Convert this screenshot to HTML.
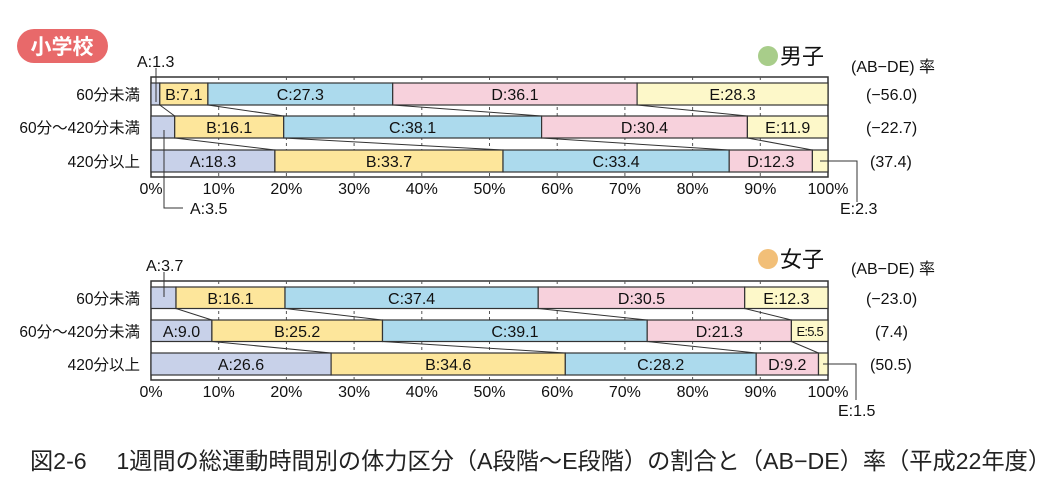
<!DOCTYPE html>
<html><head><meta charset="utf-8"><style>
body{margin:0;background:#fff;}
svg{display:block;font-family:"Liberation Sans","Noto Sans CJK JP",sans-serif;}
.t{font-size:16px;fill:#111;text-anchor:middle;}
.c{font-size:15.5px;fill:#111;text-anchor:end;}
.r{font-size:16px;fill:#111;}
.g{stroke:#555;stroke-width:1;stroke-dasharray:3,3;}
.s{stroke:#333;stroke-width:1.2;}
.l{stroke:#333;stroke-width:1;fill:none;}
.A{fill:#c8d1e9}.B{fill:#fde69b}.C{fill:#acdaed}.D{fill:#f7d1dc}.E{fill:#fdf8c9}
</style></head><body>
<svg width="1051" height="501" viewBox="0 0 1051 501">
<rect x="17" y="29" width="91" height="34" rx="17" fill="#e8696a"/>
<text x="62" y="54" font-size="21" font-weight="bold" fill="#fff" text-anchor="middle">小学校</text>

<g>
<rect x="151" y="77" width="677" height="100" fill="#fff" stroke="#333" stroke-width="1.5"/>
<line class="g" x1="218.7" y1="77" x2="218.7" y2="177"/><line class="g" x1="286.4" y1="77" x2="286.4" y2="177"/><line class="g" x1="354.1" y1="77" x2="354.1" y2="177"/><line class="g" x1="421.8" y1="77" x2="421.8" y2="177"/><line class="g" x1="489.5" y1="77" x2="489.5" y2="177"/><line class="g" x1="557.2" y1="77" x2="557.2" y2="177"/><line class="g" x1="624.9" y1="77" x2="624.9" y2="177"/><line class="g" x1="692.6" y1="77" x2="692.6" y2="177"/><line class="g" x1="760.3" y1="77" x2="760.3" y2="177"/>
<rect class="A s" x="151" y="83" width="8.8" height="22"/><rect class="B s" x="159.8" y="83" width="48.1" height="22"/><rect class="C s" x="207.9" y="83" width="184.8" height="22"/><rect class="D s" x="392.7" y="83" width="244.4" height="22"/><rect class="E s" x="637.1" y="83" width="190.9" height="22"/>
<rect class="A s" x="151" y="116" width="23.7" height="22"/><rect class="B s" x="174.7" y="116" width="109" height="22"/><rect class="C s" x="283.7" y="116" width="257.9" height="22"/><rect class="D s" x="541.6" y="116" width="205.8" height="22"/><rect class="E s" x="747.4" y="116" width="80.6" height="22"/>
<rect class="A s" x="151" y="150" width="123.9" height="22"/><rect class="B s" x="274.9" y="150" width="228.1" height="22"/><rect class="C s" x="503" y="150" width="226.2" height="22"/><rect class="D s" x="729.2" y="150" width="83.2" height="22"/><rect class="E s" x="812.4" y="150" width="15.6" height="22"/>
<path class="l" d="M159.8 105L174.7 116M207.9 105L283.7 116M392.7 105L541.6 116M637.1 105L747.4 116M174.7 138L274.9 150M283.7 138L503 150M541.6 138L729.2 150M747.4 138L812.4 150"/>
<text class="t" x="183.8" y="100">B:7.1</text><text class="t" x="300.3" y="100">C:27.3</text><text class="t" x="514.9" y="100">D:36.1</text><text class="t" x="732.5" y="100">E:28.3</text>
<text class="t" x="229.2" y="133">B:16.1</text><text class="t" x="412.6" y="133">C:38.1</text><text class="t" x="644.5" y="133">D:30.4</text><text class="t" x="787.7" y="133">E:11.9</text>
<text class="t" x="213" y="167">A:18.3</text><text class="t" x="389" y="167">B:33.7</text><text class="t" x="616.1" y="167">C:33.4</text><text class="t" x="770.8" y="167">D:12.3</text>
<path class="l" d="M156 68V102M164 130V208H183M820 161H857V202"/>
<text class="r" x="137" y="67">A:1.3</text>
<text class="r" x="190" y="214">A:3.5</text>
<text class="r" x="840" y="214">E:2.3</text>
<text class="c" x="140" y="100">60分未満</text><text class="c" x="140" y="133">60分～420分未満</text><text class="c" x="140" y="167">420分以上</text>
<text class="t" x="151" y="194">0%</text><text class="t" x="218.7" y="194">10%</text><text class="t" x="286.4" y="194">20%</text><text class="t" x="354.1" y="194">30%</text><text class="t" x="421.8" y="194">40%</text><text class="t" x="489.5" y="194">50%</text><text class="t" x="557.2" y="194">60%</text><text class="t" x="624.9" y="194">70%</text><text class="t" x="692.6" y="194">80%</text><text class="t" x="760.3" y="194">90%</text><text class="t" x="828" y="194">100%</text>
<circle cx="768" cy="56" r="10" fill="#a8cd8a"/>
<text x="780" y="64" font-size="22" fill="#111">男子</text>
<text class="r" x="851" y="72">(AB−DE) 率</text>
<text class="r" x="866" y="100">(−56.0)</text><text class="r" x="866" y="133">(−22.7)</text><text class="r" x="870" y="167">(37.4)</text>
</g>

<g>
<rect x="151" y="281" width="677" height="99" fill="#fff" stroke="#333" stroke-width="1.5"/>
<line class="g" x1="218.7" y1="281" x2="218.7" y2="380"/><line class="g" x1="286.4" y1="281" x2="286.4" y2="380"/><line class="g" x1="354.1" y1="281" x2="354.1" y2="380"/><line class="g" x1="421.8" y1="281" x2="421.8" y2="380"/><line class="g" x1="489.5" y1="281" x2="489.5" y2="380"/><line class="g" x1="557.2" y1="281" x2="557.2" y2="380"/><line class="g" x1="624.9" y1="281" x2="624.9" y2="380"/><line class="g" x1="692.6" y1="281" x2="692.6" y2="380"/><line class="g" x1="760.3" y1="281" x2="760.3" y2="380"/>
<rect class="A s" x="151" y="287" width="25" height="21.5"/><rect class="B s" x="176" y="287" width="109" height="21.5"/><rect class="C s" x="285" y="287" width="253.2" height="21.5"/><rect class="D s" x="538.2" y="287" width="206.5" height="21.5"/><rect class="E s" x="744.7" y="287" width="83.3" height="21.5"/>
<rect class="A s" x="151" y="320" width="60.9" height="21.5"/><rect class="B s" x="211.9" y="320" width="170.6" height="21.5"/><rect class="C s" x="382.5" y="320" width="264.7" height="21.5"/><rect class="D s" x="647.2" y="320" width="144.2" height="21.5"/><rect class="E s" x="791.4" y="320" width="36.6" height="21.5"/>
<rect class="A s" x="151" y="353" width="180.1" height="22"/><rect class="B s" x="331.1" y="353" width="234.2" height="22"/><rect class="C s" x="565.3" y="353" width="190.9" height="22"/><rect class="D s" x="756.2" y="353" width="62.3" height="22"/><rect class="E s" x="818.5" y="353" width="9.5" height="22"/>
<path class="l" d="M176 308.5L211.9 320M285 308.5L382.5 320M538.2 308.5L647.2 320M744.7 308.5L791.4 320M211.9 341.5L331.1 353M382.5 341.5L565.3 353M647.2 341.5L756.2 353M791.4 341.5L818.5 353"/>
<text class="t" x="230.5" y="304">B:16.1</text><text class="t" x="411.6" y="304">C:37.4</text><text class="t" x="641.5" y="304">D:30.5</text><text class="t" x="786.4" y="304">E:12.3</text>
<text class="t" x="181.5" y="337">A:9.0</text><text class="t" x="297.2" y="337">B:25.2</text><text class="t" x="514.9" y="337">C:39.1</text><text class="t" x="719.3" y="337">D:21.3</text><text x="809.7" y="336" font-size="13" fill="#111" text-anchor="middle" letter-spacing="-0.8">E:5.5</text>
<text class="t" x="241" y="370">A:26.6</text><text class="t" x="448.2" y="370">B:34.6</text><text class="t" x="660.7" y="370">C:28.2</text><text class="t" x="787.3" y="370">D:9.2</text>
<path class="l" d="M164 272V297M823 364H856V400"/>
<text class="r" x="146" y="271">A:3.7</text>
<text class="r" x="838" y="416">E:1.5</text>
<text class="c" x="140" y="304">60分未満</text><text class="c" x="140" y="337">60分～420分未満</text><text class="c" x="140" y="370">420分以上</text>
<text class="t" x="151" y="397">0%</text><text class="t" x="218.7" y="397">10%</text><text class="t" x="286.4" y="397">20%</text><text class="t" x="354.1" y="397">30%</text><text class="t" x="421.8" y="397">40%</text><text class="t" x="489.5" y="397">50%</text><text class="t" x="557.2" y="397">60%</text><text class="t" x="624.9" y="397">70%</text><text class="t" x="692.6" y="397">80%</text><text class="t" x="760.3" y="397">90%</text><text class="t" x="828" y="397">100%</text>
<circle cx="768" cy="259" r="10" fill="#f2bf78"/>
<text x="780" y="267" font-size="22" fill="#111">女子</text>
<text class="r" x="851" y="274">(AB−DE) 率</text>
<text class="r" x="866" y="304">(−23.0)</text><text class="r" x="875" y="337">(7.4)</text><text class="r" x="870" y="370">(50.5)</text>
</g>

<text x="30" y="469" font-size="23.2" fill="#222">図2-6　 1週間の総運動時間別の体力区分（A段階～E段階）の割合と（AB−DE）率（平成22年度）</text>
</svg>
</body></html>
